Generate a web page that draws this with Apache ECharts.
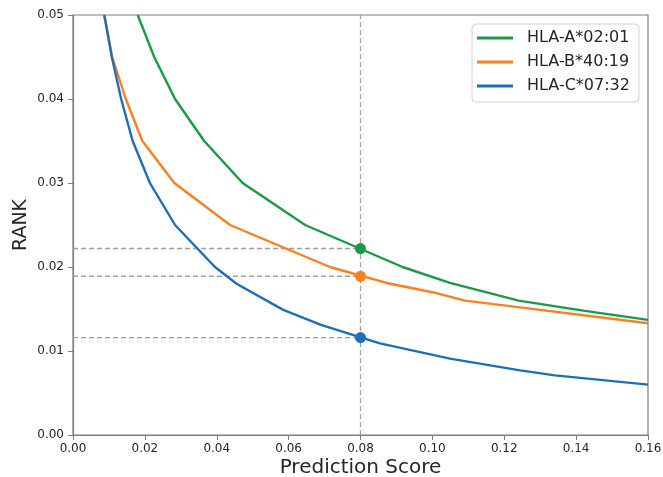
<!DOCTYPE html>
<html>
<head>
<meta charset="utf-8">
<title>RANK vs Prediction Score</title>
<script src="https://cdn.jsdelivr.net/npm/echarts@6/dist/echarts.min.js"></script>
<style>
  html, body { margin: 0; padding: 0; background: #fff; }
  #chart { width: 663px; height: 477px; }
</style>
</head>
<body>
<div id="chart"></div>
<script>
// Curve data: [prediction score, rank] pairs for each allele
const alleleNames = ['HLA-A*02:01', 'HLA-B*40:19', 'HLA-C*07:32'];
const alleleColors = ['#1b9a46', '#fd7f1e', '#1f6fb4'];

const curveA = [
  [0.0180, 0.0500], [0.0226, 0.0450], [0.0284, 0.0400], [0.0365, 0.0350],
  [0.0472, 0.0300], [0.0646, 0.0250], [0.0917, 0.0200], [0.1049, 0.0181],
  [0.1240, 0.0160], [0.1420, 0.0148], [0.1600, 0.0137]
];
const curveB = [
  [0.0087, 0.0500], [0.0109, 0.0450], [0.0147, 0.0400], [0.0193, 0.0350],
  [0.0282, 0.0300], [0.0437, 0.0250], [0.0715, 0.0200], [0.0873, 0.0181],
  [0.1000, 0.0170], [0.1091, 0.0160], [0.1244, 0.0152], [0.1600, 0.0133]
];
const curveC = [
  [0.0087, 0.0500], [0.0108, 0.0450], [0.0134, 0.0400], [0.0166, 0.0350],
  [0.0214, 0.0300], [0.0284, 0.0250], [0.0395, 0.0200], [0.0455, 0.0180],
  [0.0585, 0.0149], [0.0690, 0.0131], [0.0854, 0.0109], [0.1049, 0.0091],
  [0.1244, 0.0077], [0.1341, 0.0071], [0.1600, 0.0060]
];
const curves = [curveA, curveB, curveC];

// Highlighted score threshold and the ranks read at it
const thresholdScore = 0.08;
const thresholdRanks = [0.0222, 0.0189, 0.0116];

// Axis ranges and ticks
const xMin = 0, xMax = 0.16, xStep = 0.02;
const yMin = 0, yMax = 0.05, yStep = 0.01;

const FONT = 'DejaVu Sans';
const TEXT = '#262626';
const SPINE = '#7f7f7f';
const GUIDE = '#a0a0a0';

const series = [];

// Dashed guide lines: one vertical at the threshold, one horizontal per allele
series.push({
  type: 'line', silent: true, symbol: 'none', z: 1,
  data: [[thresholdScore, yMin], [thresholdScore, yMax]],
  lineStyle: { color: GUIDE, width: 1.3, type: [5, 3] }
});
thresholdRanks.forEach(r => {
  series.push({
    type: 'line', silent: true, symbol: 'none', z: 1,
    data: [[xMin, r], [thresholdScore, r]],
    lineStyle: { color: GUIDE, width: 1.3, type: [5, 3] }
  });
});

// Rank curves
curves.forEach((c, i) => {
  series.push({
    name: alleleNames[i], type: 'line', data: c, symbol: 'none',
    clip: true, z: 3,
    lineStyle: { color: alleleColors[i], width: 2.4 },
    itemStyle: { color: alleleColors[i] }
  });
});

// Markers at the threshold
thresholdRanks.forEach((r, i) => {
  series.push({
    type: 'scatter', silent: true, z: 4,
    data: [[thresholdScore, r]], symbolSize: 11,
    itemStyle: { color: alleleColors[i], opacity: 1 }
  });
});

const chart = echarts.init(document.getElementById('chart'), null, { renderer: 'canvas' });
chart.setOption({
  animation: false,
  backgroundColor: '#fff',
  textStyle: { fontFamily: FONT },
  grid: {
    left: 73, right: 15, top: 15, bottom: 42,
    containLabel: false, outerBoundsMode: 'none',
    show: true, borderColor: SPINE, borderWidth: 1.2, backgroundColor: 'transparent'
  },
  legend: {
    data: alleleNames,
    orient: 'vertical',
    left: 472, top: 24,
    padding: [6, 9, 8, 5],
    itemWidth: 36, itemHeight: 3, itemGap: 8,
    icon: 'rect',
    borderColor: '#d0d0d0', borderWidth: 1, borderRadius: 4,
    backgroundColor: '#fff',
    textStyle: { fontFamily: FONT, fontSize: 16, color: TEXT, lineHeight: 16, padding: [0, 0, 0, 9] }
  },
  xAxis: {
    type: 'value', min: xMin, max: xMax, interval: xStep,
    name: 'Prediction Score', nameLocation: 'middle', nameGap: 23, nameMoveOverlap: false,
    nameTextStyle: { fontFamily: FONT, fontSize: 20, color: TEXT },
    axisLine: { show: true, lineStyle: { color: SPINE, width: 1.2 } },
    axisTick: { show: true, length: 5, lineStyle: { color: SPINE, width: 1 } },
    axisLabel: { fontFamily: FONT, fontSize: 12, color: TEXT, margin: 8, formatter: v => v.toFixed(2) },
    splitLine: { show: false }
  },
  yAxis: {
    type: 'value', min: yMin, max: yMax, interval: yStep,
    name: 'RANK', nameLocation: 'middle', nameGap: 42, nameRotate: 90, nameMoveOverlap: false,
    nameTextStyle: { fontFamily: FONT, fontSize: 19, color: TEXT },
    axisLine: { show: true, lineStyle: { color: SPINE, width: 1.2 } },
    axisTick: { show: true, length: 5, lineStyle: { color: SPINE, width: 1 } },
    axisLabel: { fontFamily: FONT, fontSize: 12, color: TEXT, margin: 9, formatter: v => v.toFixed(2) },
    splitLine: { show: false }
  },
  series: series
});
</script>
</body>
</html>
